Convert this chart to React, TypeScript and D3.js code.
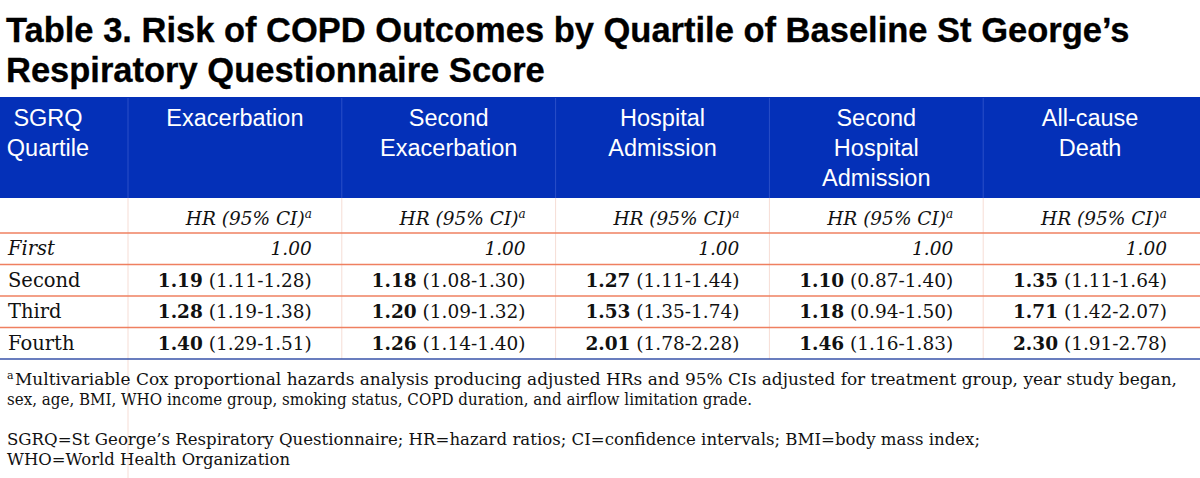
import React from "react";
import * as d3 from "d3";

const titleLines = [
  "Table 3. Risk of COPD Outcomes by Quartile of Baseline St George\u2019s",
  "Respiratory Questionnaire Score",
];
const stubHeader = ["SGRQ", "Quartile"];
const outcomes = ["Exacerbation", "Second Exacerbation", "Hospital Admission", "Second Hospital Admission", "All-cause Death"];
const outcomeHeaderLines = [
  ["Exacerbation"],
  ["Second", "Exacerbation"],
  ["Hospital", "Admission"],
  ["Second", "Hospital", "Admission"],
  ["All-cause", "Death"],
];
const quartiles = ["First", "Second", "Third", "Fourth"];
const referenceHR = 1.0;
const hazardRatios = [
  [1.19, 1.28, 1.40],
  [1.18, 1.20, 1.26],
  [1.27, 1.53, 2.01],
  [1.10, 1.18, 1.46],
  [1.35, 1.71, 2.30],
];
const ciLower = [
  [1.11, 1.19, 1.29],
  [1.08, 1.09, 1.14],
  [1.11, 1.35, 1.78],
  [0.87, 0.94, 1.16],
  [1.11, 1.42, 1.91],
];
const ciUpper = [
  [1.28, 1.38, 1.51],
  [1.30, 1.32, 1.40],
  [1.44, 1.74, 2.28],
  [1.40, 1.50, 1.83],
  [1.64, 2.07, 2.78],
];
const footnoteLines = [
  "Multivariable Cox proportional hazards analysis producing adjusted HRs and 95% CIs adjusted for treatment group, year study began,",
  "sex, age, BMI, WHO income group, smoking status, COPD duration, and airflow limitation grade.",
  "",
  "SGRQ=St George\u2019s Respiratory Questionnaire; HR=hazard ratios; CI=confidence intervals; BMI=body mass index;",
  "WHO=World Health Organization",
];
const footnoteWidths = [1162, 745, 0, 973, 283];

const W = 1200;
const H = 478;
const SANS = "'Liberation Sans', Arial, sans-serif";
const SERIF = "'DejaVu Serif', serif";
const BLUE = "#0430b8";
const ORANGE = "#ef8060";

export default function App() {
  const fmt = d3.format(".2f");
  const x = d3.scaleBand<string>().domain(outcomes).range([128, W - 3]);
  const y = d3.scaleBand<string>().domain(quartiles).range([233, 359]);
  const headTop = 97;
  const headBottom = 198;
  const headLine = d3.scaleLinear().domain([0, 1]).range([126, 156]);
  const padR = 30;

  return (
    <svg
      width={W}
      height={H}
      style={{ position: "absolute", left: 0, top: 0, background: "#fff" }}
    >
      <rect x={0} y={0} width={W} height={H} fill="#fff" />
      {titleLines.map((t, i) => (
        <text key={i} x={6} y={42 + i * 40} fontFamily={SANS} fontWeight="bold" fontSize={34.5} fill="#000" stroke="#000" strokeWidth={0.3}>
          {t}
        </text>
      ))}
      {/* header */}
      <rect x={0} y={headTop} width={W} height={headBottom - headTop} fill={BLUE} />
      {outcomes.map((o) => (
        <line key={o} x1={x(o)} x2={x(o)} y1={headTop + 1} y2={headBottom} stroke="#2a4fc8" strokeWidth={1} />
      ))}
      {stubHeader.map((t, i) => (
        <text key={t} x={48} y={headLine(i)} textAnchor="middle" fontFamily={SANS} fontSize={23.5} fill="#fff">
          {t}
        </text>
      ))}
      {outcomes.map((o, ci) =>
        outcomeHeaderLines[ci].map((t, i) => (
          <text
            key={o + i}
            x={(x(o) as number) + x.bandwidth() / 2}
            y={headLine(i)}
            textAnchor="middle"
            fontFamily={SANS}
            fontSize={23.5}
            fill="#fff"
          >
            {t}
          </text>
        ))
      )}
      {/* body verticals */}
      <line x1={128} x2={128} y1={headBottom} y2={H} stroke="#f6ddd5" strokeWidth={1} />
      {outcomes.slice(1).map((o) => (
        <line key={o} x1={x(o)} x2={x(o)} y1={headBottom} y2={359} stroke="#f6ddd5" strokeWidth={1} />
      ))}
      {/* horizontal rules */}
      {quartiles.map((q) => (
        <line key={q} x1={0} x2={W} y1={y(q)} y2={y(q)} stroke={ORANGE} strokeWidth={1.5} />
      ))}
      <line x1={0} x2={W} y1={359} y2={359} stroke="#3752a8" strokeWidth={1.5} />
      {/* HR label row */}
      {outcomes.map((o) => (
        <text
          key={o}
          x={(x(o) as number) + x.bandwidth() - padR}
          y={225}
          textAnchor="end"
          fontFamily={SERIF}
          fontStyle="italic"
          fontSize={18.5}
          fill="#111"
        >
          HR (95% CI)
          <tspan fontSize={12} dy={-7}>a</tspan>
        </text>
      ))}
      {/* row labels */}
      {quartiles.map((q, ri) => (
        <text
          key={q}
          x={8}
          y={(y(q) as number) + 22}
          fontFamily={SERIF}
          fontStyle={ri === 0 ? "italic" : "normal"}
          fontSize={19.5}
          fill="#111"
        >
          {q}
        </text>
      ))}
      {/* cells */}
      {outcomes.map((o, ci) =>
        quartiles.map((q, ri) => {
          const tx = (x(o) as number) + x.bandwidth() - padR;
          const ty = (y(q) as number) + 22;
          if (ri === 0) {
            return (
              <text key={o + q} x={tx} y={ty} textAnchor="end" fontFamily={SERIF} fontStyle="italic" fontSize={18.5} fill="#111">
                {fmt(referenceHR)}
              </text>
            );
          }
          return (
            <text key={o + q} x={tx} y={ty} textAnchor="end" fontFamily={SERIF} fontSize={18.5} fill="#111">
              <tspan fontWeight="bold">{fmt(hazardRatios[ci][ri - 1])}</tspan>
              {` (${fmt(ciLower[ci][ri - 1])}-${fmt(ciUpper[ci][ri - 1])})`}
            </text>
          );
        })
      )}
      {/* footnotes */}
      <text x={7} y={379} fontFamily={SERIF} fontSize={11} fill="#111">a</text>
      {footnoteLines.map((t, i) =>
        t ? (
          <text
            key={i}
            x={i === 0 ? 15 : 7}
            y={385 + i * 20}
            fontFamily={SERIF}
            fontSize={16.5}
            fill="#111"
            {...(footnoteWidths[i] ? { textLength: footnoteWidths[i], lengthAdjust: "spacingAndGlyphs" } : {})}
          >
            {t}
          </text>
        ) : null
      )}
    </svg>
  );
}
